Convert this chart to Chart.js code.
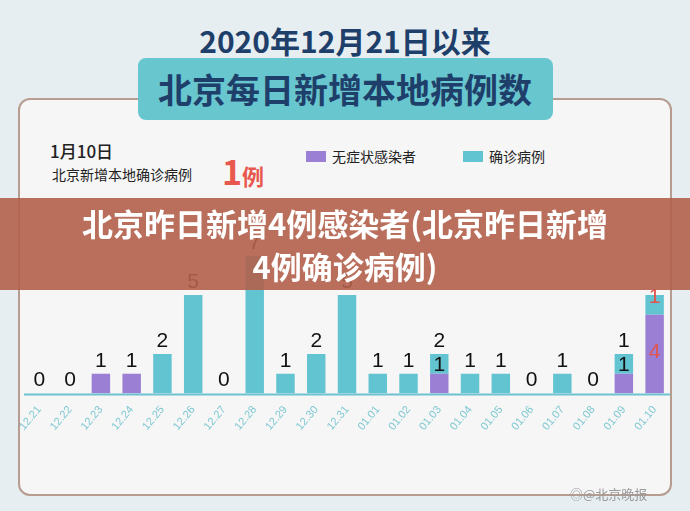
<!DOCTYPE html>
<html><head><meta charset="utf-8">
<script src="https://cdn.jsdelivr.net/npm/chart.js@4"></script>
<style>
body{margin:0;width:690px;height:511px;background:#e6eef1;position:relative;overflow:hidden;font-family:"Noto Sans CJK SC",sans-serif}
#panel{position:absolute;left:18px;top:98px;width:654px;height:398px;background:#f6f6f6;border:2px solid #b79c90;border-radius:12px;box-sizing:border-box}
#tbox{position:absolute;left:138px;top:58px;width:415px;height:62px;background:#68c6cf;border-radius:8px}
.t{position:absolute;width:690px;text-align:center;color:#1f3f6b;font-weight:bold;white-space:nowrap}
#c{position:absolute;left:0;top:0}
#banner{position:absolute;left:0;top:198px;width:690px;height:92px;background:rgba(178,96,74,0.9);color:#fff;font-weight:bold;font-size:31px;text-align:center;line-height:43px;padding-top:3px;box-sizing:border-box}
.s{position:absolute;color:#222;white-space:nowrap}
</style></head><body>
<div id="panel"></div>
<div id="tbox"></div>
<div class="t" style="top:18px;font-size:30px">2020年12月21日以来</div>
<div class="t" style="top:64px;font-size:34px">北京每日新增本地病例数</div>
<div class="s" style="left:50px;top:138px;font-size:17px;font-weight:500">1月10日</div>
<div class="s" style="left:52px;top:164px;font-size:14px">北京新增本地确诊病例</div>
<div class="s" style="left:222px;top:146px;font-size:34px;color:#e9584f;font-weight:bold">1<span style="font-size:22px">例</span></div>
<div class="s" style="left:306px;top:146px;font-size:14px"><span style="display:inline-block;width:20px;height:11px;background:#9b7fd4;margin-right:6px"></span>无症状感染者</div>
<div class="s" style="left:463px;top:146px;font-size:14px"><span style="display:inline-block;width:20px;height:11px;background:#63c4d1;margin-right:6px"></span>确诊病例</div>
<canvas id="c" width="690" height="511"></canvas>
<div id="banner">北京昨日新增4例感染者(北京昨日新增<br>4例确诊病例)</div>
<div class="s" style="left:570px;top:484px;font-size:13px;color:#999">◎@北京晚报</div>
<script>
const dates = ['12.21','12.22','12.23','12.24','12.25','12.26','12.27','12.28','12.29','12.30','12.31','01.01','01.02','01.03','01.04','01.05','01.06','01.07','01.08','01.09','01.10'];
const asymptomatic = [0,0,1,1,0,0,0,0,0,0,0,0,0,1,0,0,0,0,0,1,4];
const confirmed = [0,0,0,0,2,5,0,7,1,2,5,1,1,1,1,1,0,1,0,1,1];
const topLabels = ['0','0','1','1','2','5','0','7','1','2','5','1','1','2','1','1','0','1','0','1',''];
const innerLabels = ['','','','','','','','','','','','','','1','','','','','','1',''];

// labels above / inside the bars
const labelPlugin = {
  id: 'labels',
  afterDatasetsDraw(chart) {
    const ctx = chart.ctx;
    const y = chart.scales.y;
    const x = chart.scales.x;
    ctx.save();
    ctx.textAlign = 'center';
    ctx.font = '21px "Liberation Sans", Arial';
    dates.forEach((d, i) => {
      const cx = x.getPixelForValue(i);
      const total = asymptomatic[i] + confirmed[i];
      ctx.fillStyle = '#111';
      if (topLabels[i]) ctx.fillText(topLabels[i], cx, y.getPixelForValue(total) - 7);
      if (innerLabels[i]) ctx.fillText(innerLabels[i], cx, y.getPixelForValue(asymptomatic[i]) - 3);
      if (i === dates.length - 1) {
        ctx.fillStyle = '#e0554d';
        ctx.fillText(String(confirmed[i]), cx, y.getPixelForValue(total) + 8);
        ctx.fillText(String(asymptomatic[i]), cx, y.getPixelForValue(asymptomatic[i] / 2) + 4);
      }
    });
    // baseline
    ctx.strokeStyle = '#6fc2cf';
    ctx.lineWidth = 2;
    ctx.beginPath();
    ctx.moveTo(chart.chartArea.left, y.getPixelForValue(0) + 1);
    ctx.lineTo(chart.chartArea.right, y.getPixelForValue(0) + 1);
    ctx.stroke();
    ctx.restore();
  }
};

new Chart(document.getElementById('c'), {
  type: 'bar',
  data: {
    labels: dates,
    datasets: [
      { label: '无症状感染者', data: asymptomatic, backgroundColor: '#9b7fd4', barPercentage: 0.6, categoryPercentage: 1 },
      { label: '确诊病例', data: confirmed, backgroundColor: '#63c4d1', barPercentage: 0.6, categoryPercentage: 1 }
    ]
  },
  options: {
    responsive: false,
    animation: false,
    layout: { padding: { left: 24, right: 20, top: 236, bottom: 76 } },
    plugins: { legend: { display: false }, tooltip: { enabled: false } },
    scales: {
      x: {
        stacked: true,
        grid: { display: false },
        border: { display: false },
        ticks: { color: '#7ec8d2', font: { size: 11, family: 'Liberation Sans' }, maxRotation: 50, minRotation: 50, padding: 2 }
      },
      y: { stacked: true, min: 0, max: 8, display: false }
    }
  },
  plugins: [labelPlugin]
});
</script>
</body></html>
